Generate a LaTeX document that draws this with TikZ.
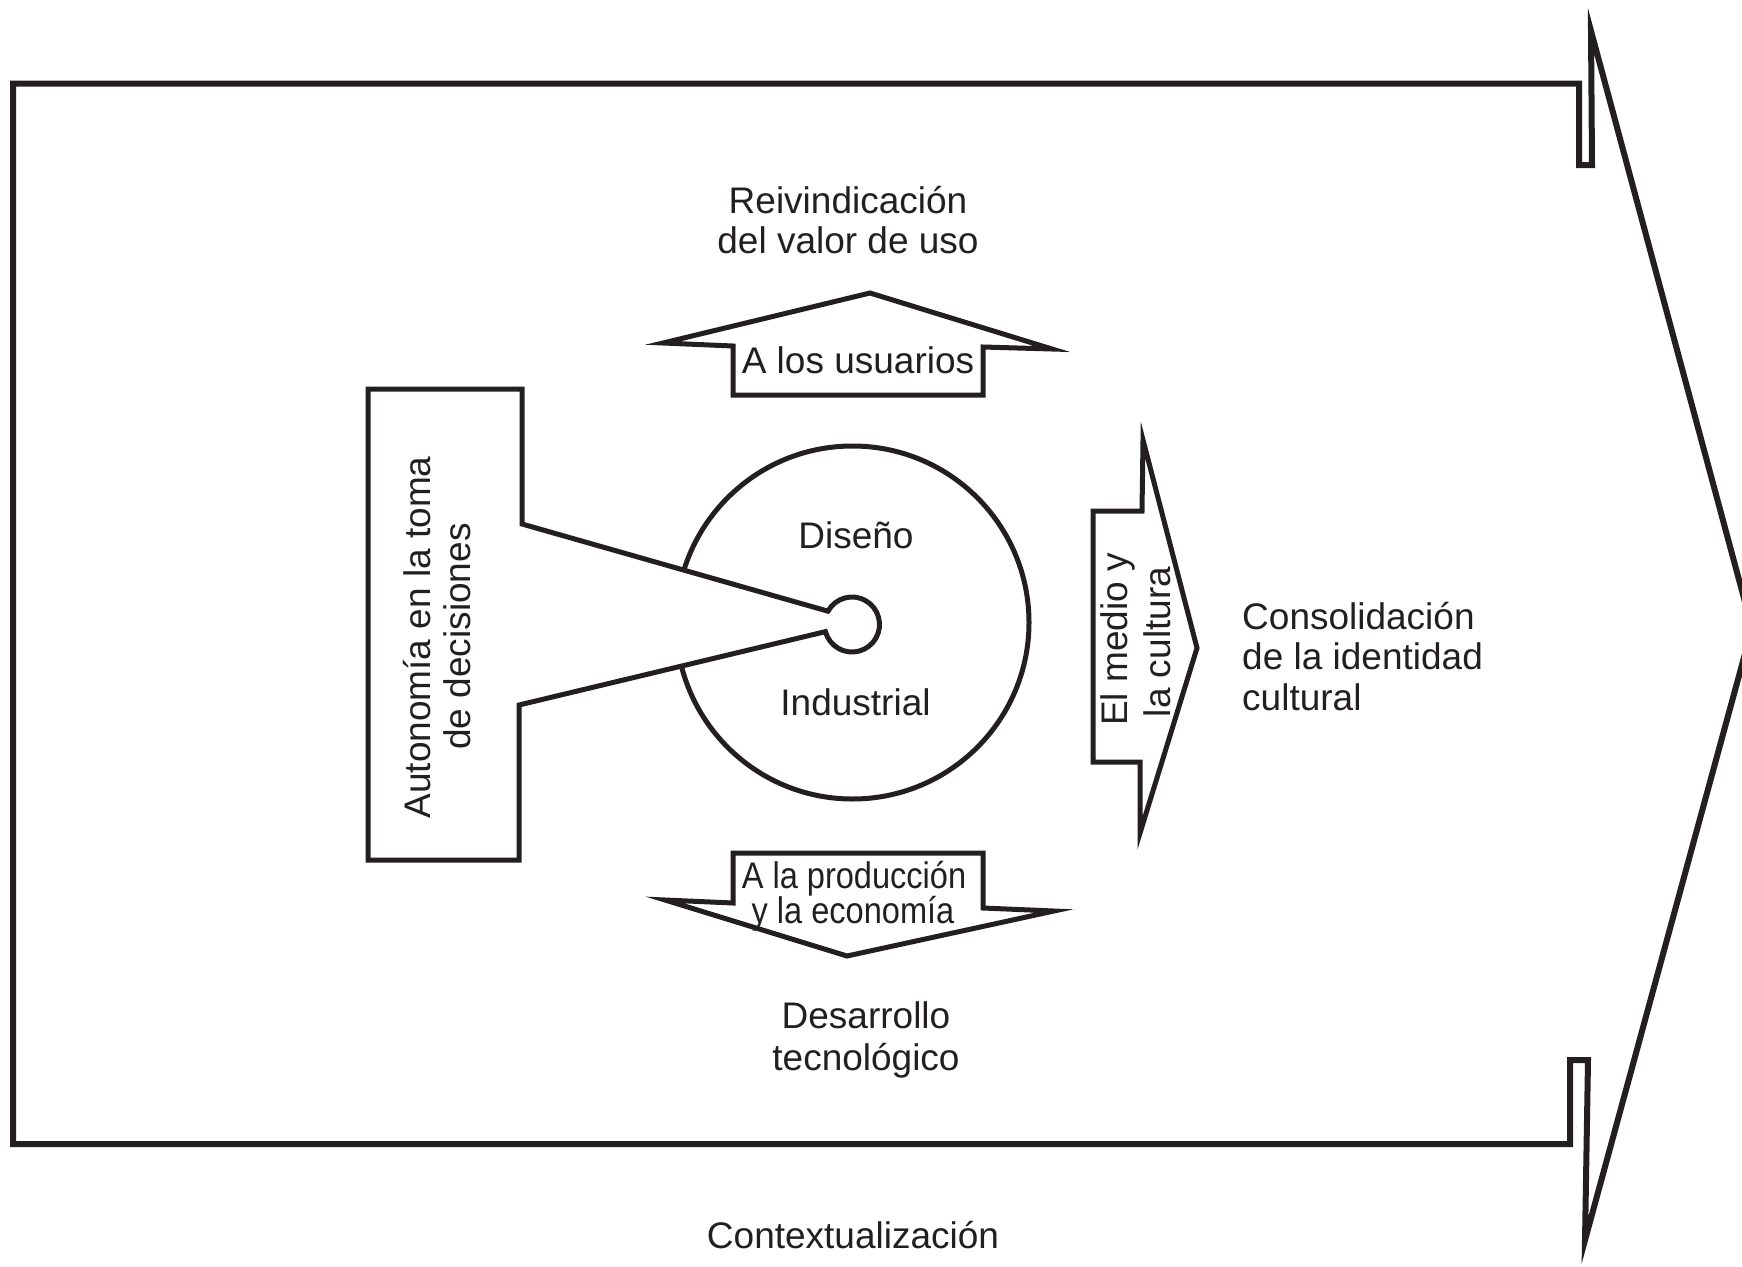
\documentclass[tikz,border=0pt]{standalone}
\usepackage{fontspec}
\setmainfont{Liberation Sans}
\usetikzlibrary{calc}
\definecolor{ink}{RGB}{35,31,32}
\begin{document}
\begin{tikzpicture}[x=1pt,y=-1pt,line join=miter,
  frame/.style={draw=ink,line width=6pt},
  shp/.style={draw=ink,line width=5pt,fill=white},
  lbl/.style={text=ink,font=\fontsize{37}{41}\selectfont,inner sep=0pt,anchor=base},
  rlbl/.style={lbl,rotate=90}]
\clip (0,0) rectangle (1742,1266);
\fill[white] (0,0) rectangle (1742,1266);
% outer frame arrow
\draw[frame] (13,83.5) -- (1579,83.5) -- (1579,165) -- (1592,165) -- (1591,31)
  -- (1752,628) -- (1585,1240) -- (1588,1060) -- (1570,1060) -- (1570,1144)
  -- (13,1144) -- cycle;
% circles
\coordinate (bc) at (852.5,622.5);
\coordinate (sc) at (852,624.5);
\draw[draw=ink,line width=5pt] (bc) circle[radius=176.5];
\draw[shp] (522,524) -- (522,389) -- (368,389) -- (368,860) -- (519,860) -- (519,705)
  -- ($(sc)+(165:27.5)$) arc[start angle=165,end angle=-151,radius=27.5] -- cycle;
% up arrow
\draw[shp] (663,343) -- (870,293) -- (1052,349) -- (983,347) -- (983,395) -- (733,395) -- (733,346) -- cycle;
% down arrow
\draw[shp] (733,853) -- (983,853) -- (983,908) -- (1054,911) -- (847,956) -- (665,900) -- (733,903) -- cycle;
% right arrow
\draw[shp] (1143,440) -- (1197,648) -- (1140,833) -- (1140,762) -- (1093,762) -- (1093,511) -- (1142,511) -- cycle;
% texts
\node[lbl] (t1) at (848,213) {Reivindicación};
\node[lbl] (t2) at (848,253) {del valor de uso};
\node[lbl] (t3) at (858,373) {A los usuarios};
\node[lbl] (t4) at (856,548) {Diseño};
\node[lbl] (t5) at (855.5,715) {Industrial};
\node[lbl] (t6) at (854,888) {\scalebox{0.88}[1]{A la producción}};
\node[lbl] (t7) at (853,923) {\scalebox{0.88}[1]{y la economía}};
\node[lbl] (t8) at (866,1028) {Desarrollo};
\node[lbl] (t9) at (866,1070) {tecnológico};
\node[lbl] (t10) at (853,1248) {Contextualización};
\node[lbl,anchor=base west] (t11) at (1242,629) {Consolidación};
\node[lbl,anchor=base west] (t12) at (1242,669) {de la identidad};
\node[lbl,anchor=base west] (t13) at (1242,710) {cultural};
\node[rlbl] (t14) at (430,637.5) {Autonomía en la toma};
\node[rlbl] (t15) at (470,636.5) {de decisiones};
\node[rlbl] (t16) at (1127,639.5) {El medio y};
\node[rlbl] (t17) at (1170,642) {la cultura};
\end{tikzpicture}
\end{document}
